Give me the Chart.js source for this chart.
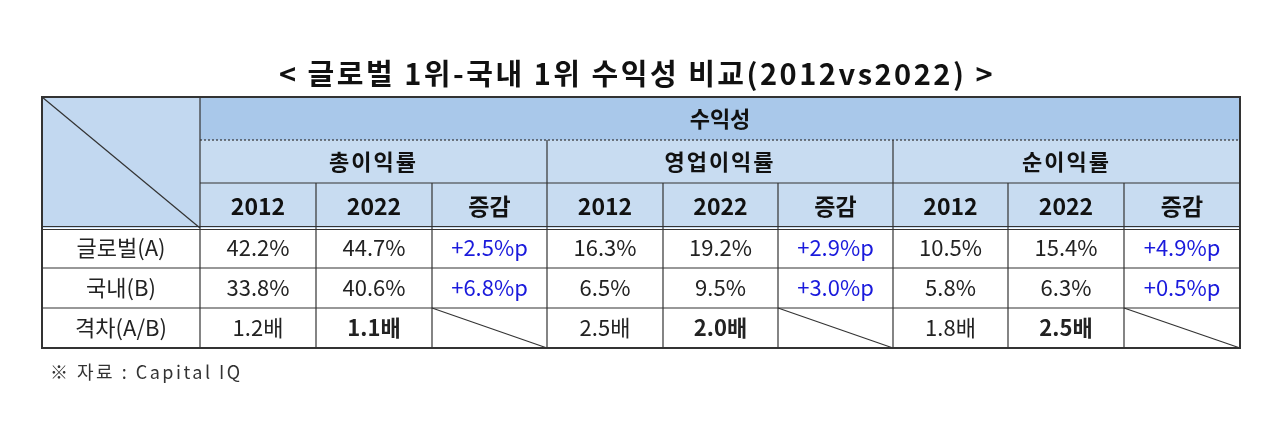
<!DOCTYPE html>
<html><head><meta charset="utf-8">
<script src="https://cdn.jsdelivr.net/npm/chart.js@4"></script>
<style>html,body{margin:0;padding:0;background:#fff}#w{width:1280px;height:430px}</style>
</head><body><div id="w"><canvas id="c"></canvas></div>
<script>
const title = '< 글로벌 1위-국내 1위 수익성 비교(2012vs2022) >';
const topHeader = '수익성';
const groups = ['총이익률', '영업이익률', '순이익률'];
const subHeads = ['2012', '2022', '증감'];
const rowLabels = ['글로벌(A)', '국내(B)', '격차(A/B)'];
const globalVals = ['42.2%', '44.7%', '+2.5%p', '16.3%', '19.2%', '+2.9%p', '10.5%', '15.4%', '+4.9%p'];
const domesticVals = ['33.8%', '40.6%', '+6.8%p', '6.5%', '9.5%', '+3.0%p', '5.8%', '6.3%', '+0.5%p'];
const gapVals = ['1.2배', '1.1배', '', '2.5배', '2.0배', '', '1.8배', '2.5배', ''];
const source = '※ 자료 : Capital IQ';
const colEdges = [0,158,274,390,505,621,736,851,966,1082,1198];
const rowEdges = [0,43,86,131,171,211,251];
const rows = [globalVals, domesticVals, gapVals];
const F = '"Noto Sans CJK KR", "Noto Sans", sans-serif';

const tablePlugin = {
  id: 'table',
  afterDraw(chart) {
    const ctx = chart.ctx, xs = chart.scales.x, ys = chart.scales.y;
    const X = v => xs.getPixelForValue(v), Y = v => ys.getPixelForValue(v);
    ctx.save();
    ctx.fillStyle = '#c8dcf1';
    ctx.fillRect(X(0), Y(0), X(colEdges[10]) - X(0), Y(rowEdges[3]) - Y(0));
    ctx.fillStyle = '#a9c8ea';
    ctx.fillRect(X(colEdges[1]), Y(0), X(colEdges[10]) - X(colEdges[1]), Y(rowEdges[1]) - Y(0));
    ctx.fillStyle = '#c2d8f0';
    ctx.fillRect(X(0), Y(0), X(colEdges[1]) - X(0), Y(rowEdges[3]) - Y(0));
    ctx.strokeStyle = '#333'; ctx.lineWidth = 1.2;
    const line = (x1, y1, x2, y2) => { ctx.beginPath(); ctx.moveTo(X(x1), Y(y1)); ctx.lineTo(X(x2), Y(y2)); ctx.stroke(); };
    ctx.lineWidth = 2;
    ctx.strokeRect(X(0), Y(0), X(colEdges[10]) - X(0), Y(rowEdges[6]) - Y(0));
    ctx.lineWidth = 1.2;
    ctx.setLineDash([2, 2]);
    line(colEdges[1], rowEdges[1], colEdges[10], rowEdges[1]);
    ctx.setLineDash([]);
    line(colEdges[1], rowEdges[2], colEdges[10], rowEdges[2]);
    line(0, rowEdges[3] - 1.5, colEdges[10], rowEdges[3] - 1.5);
    line(0, rowEdges[3] + 1.5, colEdges[10], rowEdges[3] + 1.5);
    line(0, rowEdges[4], colEdges[10], rowEdges[4]);
    line(0, rowEdges[5], colEdges[10], rowEdges[5]);
    line(colEdges[1], 0, colEdges[1], rowEdges[6]);
    for (let i = 2; i < 10; i++) {
      const major = (i - 1) % 3 === 0;
      line(colEdges[i], major ? rowEdges[1] : rowEdges[2], colEdges[i], rowEdges[6]);
    }
    line(0, 0, colEdges[1], rowEdges[3]);
    for (const g of [3, 6, 9]) line(colEdges[g], rowEdges[5], colEdges[g + 1], rowEdges[6]);
    ctx.textAlign = 'center'; ctx.textBaseline = 'middle';
    const txt = (s, x, y, font, color, ls) => { ctx.font = font; ctx.letterSpacing = (ls || 0) + 'px'; ctx.fillStyle = color || '#111'; ctx.fillText(s, x, y); };
    txt(topHeader, (X(colEdges[1]) + X(colEdges[10])) / 2, (Y(0) + Y(rowEdges[1])) / 2, 'bold 22px ' + F);
    groups.forEach((g, i) => txt(g, (X(colEdges[1 + 3 * i]) + X(colEdges[4 + 3 * i])) / 2, (Y(rowEdges[1]) + Y(rowEdges[2])) / 2, 'bold 22px ' + F, '#111', 2));
    for (let c = 0; c < 9; c++) {
      const cx = (X(colEdges[c + 1]) + X(colEdges[c + 2])) / 2;
      txt(subHeads[c % 3], cx, (Y(rowEdges[2]) + Y(rowEdges[3])) / 2 + 1, 'bold 23px ' + F);
      rows.forEach((r, ri) => {
        const cy = (Y(rowEdges[3 + ri]) + Y(rowEdges[4 + ri])) / 2;
        const isDelta = c % 3 === 2;
        const bold = ri === 2 && c % 3 === 1;
        txt(r[c], cx, cy, (bold ? 'bold ' : '') + '22px ' + F, isDelta ? '#1a1adc' : '#222');
      });
    }
    rowLabels.forEach((l, ri) => txt(l, (X(0) + X(colEdges[1])) / 2, (Y(rowEdges[3 + ri]) + Y(rowEdges[4 + ri])) / 2, '22px ' + F, '#222'));
    txt(title, 637, 74, 'bold 29px ' + F, '#111', 2.5);
    ctx.textAlign = 'left';
    txt(source, 50, 372, '18px ' + F, '#333', 2.5);
    ctx.restore();
  }
};

new Chart(document.getElementById('c'), {
  type: 'scatter',
  data: { datasets: [{ data: [] }] },
  options: {
    responsive: true, maintainAspectRatio: false, animation: false,
    layout: { padding: { left: 42, right: 40, top: 97, bottom: 82 } },
    plugins: { legend: { display: false }, tooltip: { enabled: false } },
    scales: {
      x: { type: 'linear', display: false, min: 0, max: colEdges[10] },
      y: { type: 'linear', display: false, min: 0, max: rowEdges[6], reverse: true }
    }
  },
  plugins: [tablePlugin]
});
</script></body></html>
